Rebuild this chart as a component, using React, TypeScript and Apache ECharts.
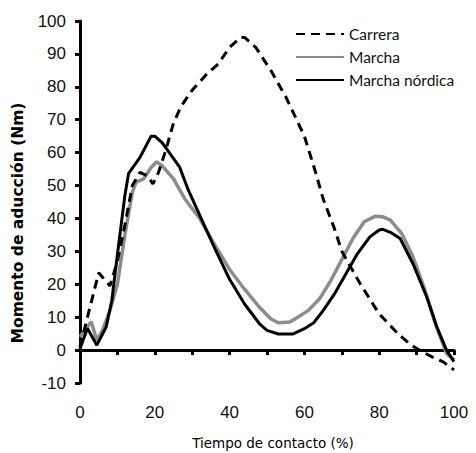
import React, { useEffect, useRef } from "react";
import * as echarts from "echarts";

// Tiempo de contacto (%) and Momento de aducción (Nm)
const carreraX = [0, 2, 4, 5, 8, 10, 12, 14, 16, 18, 19.5, 21, 23, 25, 27, 30, 34, 37, 40, 43, 44, 47, 51, 55, 60, 63, 65, 68, 70, 75, 80, 85, 88, 90, 94, 97, 100];
const carreraY = [1, 10, 19, 23.5, 19.5, 27, 38, 50, 54, 53, 50.5, 54, 61, 69, 74, 79, 84, 87, 92, 95, 95, 92, 85, 77, 65, 54, 46, 37, 30, 20, 11, 5, 2, 0.5, -2, -3.5, -6];

const marchaX = [0, 3, 4.5, 6, 8, 10, 12, 14, 15, 17, 19, 20.5, 22, 25, 28, 32, 36, 40, 44, 48, 51, 53, 56, 58, 61, 64, 67, 70, 73, 76, 79, 81, 83, 86, 89, 92, 95, 98, 100];
const marchaY = [4, 8.6, 3, 6, 12, 20, 35, 48, 51, 52, 55.5, 57.2, 56, 52, 46, 40, 32, 24.5, 18.5, 13, 9.5, 8.3, 8.5, 9.8, 12, 15.5, 21, 27.5, 34, 39, 40.7, 40.5, 39.5, 35.5, 28.4, 19, 8, -1, -3];

const nordicaX = [0, 2, 4.5, 7, 8.5, 10, 12, 13, 16, 19, 20, 22, 26.6, 29, 32, 36, 40, 44, 48, 50, 53, 57, 60, 62.5, 65, 68, 71, 74, 77.5, 80, 81, 83, 85.6, 89, 92.7, 95.4, 98, 100];
const nordicaY = [0.5, 6.6, 1.5, 7, 15, 29, 47, 53.7, 58.5, 65, 65, 63, 55.7, 48.5, 41, 31, 21.5, 14, 8, 6, 4.9, 4.9, 6.5, 8.3, 12, 17, 23, 29, 34.4, 36.5, 36.7, 35.8, 33.9, 26.3, 16.2, 7.1, 0, -3.5];

const seriesNames = ["Carrera", "Marcha", "Marcha nórdica"];
const xTitle = "Tiempo de contacto (%)";
const yTitle = "Momento de aducción (Nm)";

const pairs = (xs: number[], ys: number[]) => xs.map((x, i) => [x, ys[i]]);

export default function App() {
  const ref = useRef<HTMLDivElement>(null);
  useEffect(() => {
    if (!ref.current) return;
    const chart = echarts.init(ref.current, undefined, { renderer: "svg" });
    chart.setOption({
      animation: false,
      backgroundColor: "#ffffff",
      grid: { left: 80, right: 22, top: 21, bottom: 70, outerBoundsMode: "none", containLabel: false },
      legend: {
        orient: "vertical",
        left: 290,
        top: 21,
        itemWidth: 48,
        itemHeight: 14,
        itemGap: 7,
        data: seriesNames,
        itemStyle: { opacity: 0, borderWidth: 0 },
        textStyle: { fontFamily: "Lato", fontSize: 15.5, color: "#111" },
      },
      xAxis: {
        type: "value",
        min: 0,
        max: 100,
        interval: 10,
        name: xTitle,
        nameLocation: "middle",
        nameGap: 53,
        nameTextStyle: { fontFamily: "DejaVu Sans", fontSize: 13.5, color: "#000", padding: [0, 0, 0, 12] },
        axisLine: { onZero: true, lineStyle: { color: "#000", width: 3 } },
        axisTick: { show: true, length: 5, lineStyle: { color: "#000", width: 3 } },
        axisLabel: {
          margin: 21,
          fontFamily: "Liberation Sans",
          fontSize: 17,
          color: "#111",
          formatter: (v: number) => (v % 20 === 0 ? String(v) : ""),
        },
        splitLine: { show: false },
      },
      yAxis: {
        type: "value",
        min: -10,
        max: 100,
        interval: 10,
        name: yTitle,
        nameLocation: "middle",
        nameGap: 54,
        nameTextStyle: {
          fontFamily: "DejaVu Sans",
          fontWeight: "bold",
          fontSize: 15.5,
          color: "#000",
          padding: [0, 42, 0, 0],
        },
        axisLine: { show: true, lineStyle: { color: "#000", width: 3 } },
        axisTick: { show: true, length: 5, lineStyle: { color: "#000", width: 3 } },
        axisLabel: { margin: 14, fontFamily: "Liberation Sans", fontSize: 17, color: "#111" },
        splitLine: { show: false },
      },
      series: [
        {
          name: seriesNames[0],
          type: "line",
          data: pairs(carreraX, carreraY),
          symbol: "none",
          lineStyle: { color: "#000", width: 3, type: [9, 6] },
          itemStyle: { color: "#000" },
          z: 3,
        },
        {
          name: seriesNames[1],
          type: "line",
          data: pairs(marchaX, marchaY),
          symbol: "none",
          lineStyle: { color: "#8c8c8c", width: 3.5 },
          itemStyle: { color: "#8c8c8c" },
          z: 2,
        },
        {
          name: seriesNames[2],
          type: "line",
          data: pairs(nordicaX, nordicaY),
          symbol: "none",
          lineStyle: { color: "#000", width: 3 },
          itemStyle: { color: "#000" },
          z: 4,
        },
      ],
    });
    return () => chart.dispose();
  }, []);
  return (
    <div
      ref={ref}
      style={{ position: "fixed", left: 0, top: 0, width: 476, height: 453, background: "#fff" }}
    />
  );
}
